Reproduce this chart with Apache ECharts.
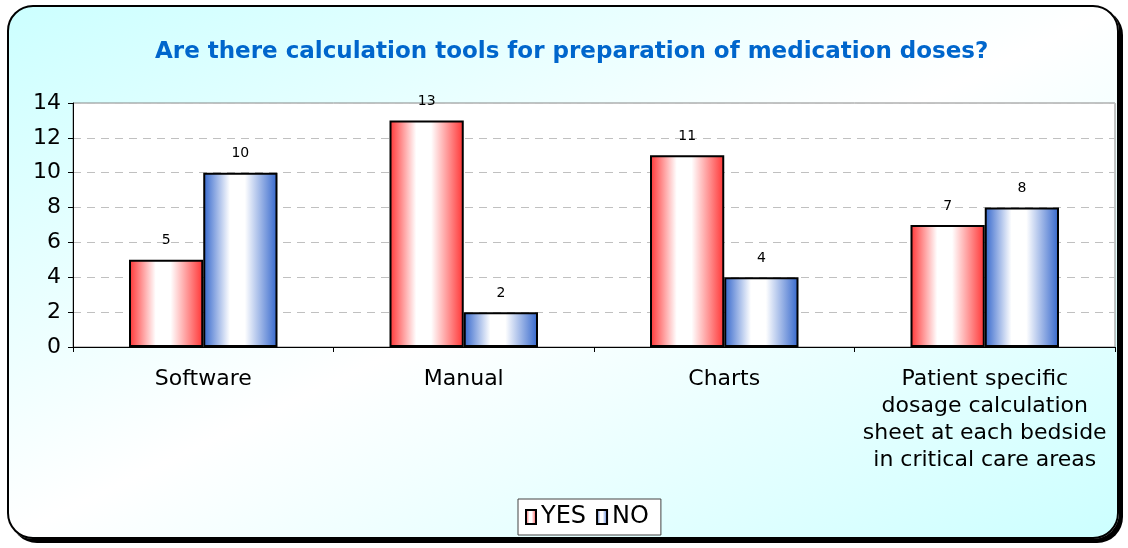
<!DOCTYPE html>
<html><head><meta charset="utf-8">
<script src="https://cdn.jsdelivr.net/npm/echarts@6/dist/echarts.min.js"></script>
<style>
html,body{margin:0;padding:0;background:#fff;}
#wrap{position:relative;width:1128px;height:548px;overflow:hidden;}
#panel{position:absolute;left:7px;top:5px;width:1112px;height:534px;border:2px solid #000;border-radius:26px;
box-shadow:4px 4px 0 #000;background:linear-gradient(to bottom right,#ccffff 0%,#ffffff 50%,#ccffff 100%);box-sizing:border-box;}
#chart{position:absolute;left:0;top:0;width:1128px;height:548px;}
</style></head>
<body><div id="wrap"><div id="panel"></div><div id="chart"></div></div>
<script>
const titleText = 'Are there calculation tools for preparation of medication doses?';
const categories = ['Software', 'Manual', 'Charts', 'Patient specific\ndosage calculation\nsheet at each bedside\nin critical care areas'];
const yesValues = [5, 13, 11, 7];
const noValues = [10, 2, 4, 8];
const yTicks = [0, 2, 4, 6, 8, 10, 12, 14];

const FONT = 'DejaVu Sans';
function grad(c){
  return new echarts.graphic.LinearGradient(0,0,1,0,[
    {offset:0,color:c},{offset:0.36,color:'#ffffff'},{offset:0.56,color:'#ffffff'},{offset:1,color:c}]);
}
const chart = echarts.init(document.getElementById('chart'), null, {renderer:'canvas'});
chart.setOption({
  backgroundColor:'transparent',
  animation:false,
  title:{text:titleText,left:150,top:36,textStyle:{color:'#0066cc',fontFamily:FONT,fontWeight:'bold',fontSize:23}},
  legend:{data:['YES','NO'],left:518,top:499,padding:[4,12,4,7],itemGap:10,itemWidth:10,itemHeight:14,icon:'rect',
    backgroundColor:'#fff',borderColor:'#444',borderWidth:1,borderRadius:0,
    textStyle:{fontFamily:FONT,fontSize:24,color:'#000',lineHeight:28}},
  grid:{left:73,top:103,right:13,bottom:201,show:true,borderColor:'#888',borderWidth:1,backgroundColor:'#fff'},
  xAxis:{type:'category',data:categories,
    axisLine:{lineStyle:{color:'#000',width:1}},
    axisTick:{show:true,length:5,lineStyle:{color:'#000'}},
    axisLabel:{fontFamily:FONT,fontSize:22,color:'#000',margin:19,lineHeight:27,interval:0}},
  yAxis:{type:'value',min:yTicks[0],max:yTicks[yTicks.length-1],interval:2,
    axisLine:{show:true,lineStyle:{color:'#000',width:1}},
    axisTick:{show:true,length:5,lineStyle:{color:'#000'}},
    axisLabel:{fontFamily:FONT,fontSize:22,color:'#000',margin:12},
    splitLine:{show:true,lineStyle:{color:'#c0c0c0',type:[8,6],width:1}}},
  series:[
    {name:'YES',type:'bar',data:yesValues,barGap:'0%',barCategoryGap:'43%',
     itemStyle:{color:grad('#ff3333'),borderColor:'#000',borderWidth:2},
     label:{show:true,position:'top',distance:12,fontFamily:FONT,fontSize:14,color:'#000'}},
    {name:'NO',type:'bar',data:noValues,barGap:'0%',barCategoryGap:'43%',
     itemStyle:{color:grad('#3366cc'),borderColor:'#000',borderWidth:2},
     label:{show:true,position:'top',distance:12,fontFamily:FONT,fontSize:14,color:'#000'}}
  ]
});
</script></body></html>
